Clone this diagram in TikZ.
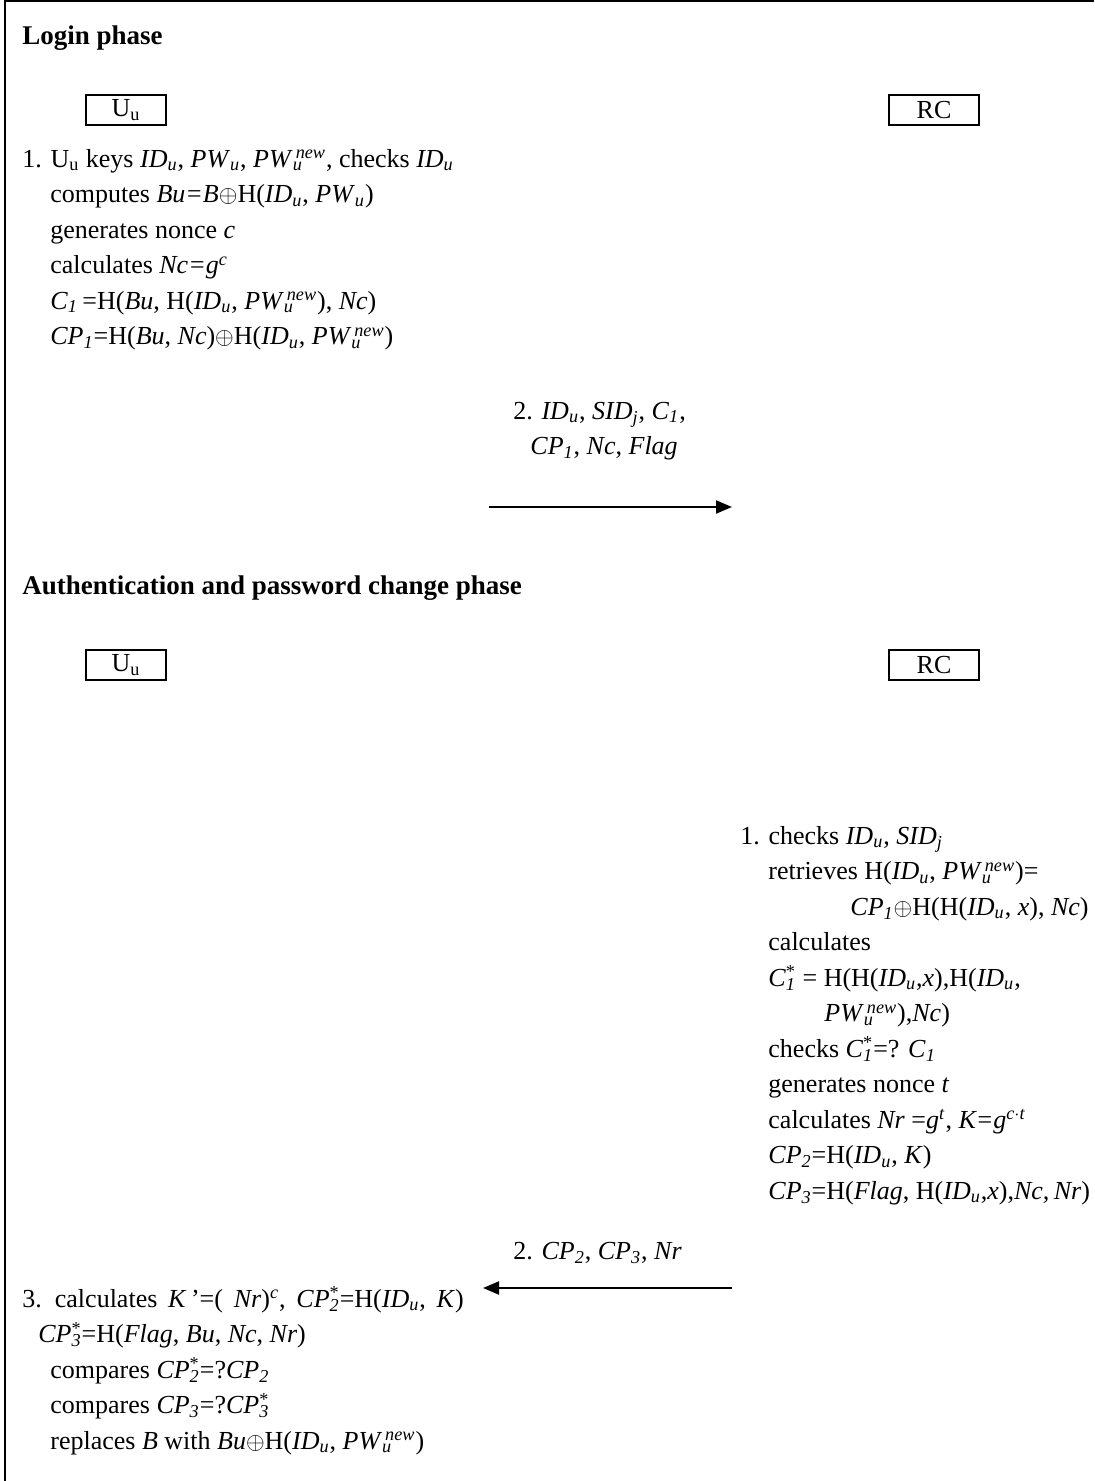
\documentclass[tikz,border=0pt]{standalone}
\usepackage{fontspec}
\setmainfont{Liberation Serif}
\usetikzlibrary{arrows.meta}

\newcommand{\sbi}[1]{\textsubscript{\textit{#1}}}
\newcommand{\PWnew}{\textit{PW}\rlap{\textsubscript{\textit{u}}}\kern1.5pt\textsuperscript{\textit{new}}}
\newcommand{\stsub}[1]{\rlap{\textsuperscript{*}}\textsubscript{\textit{#1}}}
\newcommand{\xo}{$\oplus$}
\newcommand{\ind}{\hspace*{14pt}}

\begin{document}
\begin{tikzpicture}[x=0.5pt, y=-0.5pt,
  every node/.style={font=\fontsize{13pt}{17.75pt}\selectfont, inner sep=0pt},
  heading/.style={anchor=base west, font=\fontsize{13.5pt}{17.75pt}\selectfont\bfseries},
  party/.style={draw, line width=1.3pt, minimum width=40pt, minimum height=15pt},
  block/.style={anchor=north west, align=left},
  msg/.style={-{Triangle[length=8pt,width=6.5pt]}, line width=1pt}]
  \useasboundingbox (0,0) rectangle (1094,1481);
  % frame
  \draw[line width=1.3pt] (5,1481) -- (5,1) -- (1094,1);

  % login phase
  \node[heading] (login) at (22,45) {Login phase};
  \node[party] (user1) at (126,110) {U\textsubscript{u}};
  \node[party, minimum width=45pt] (rc1) at (934,110) {RC};
  \node[block] (ustep1) at (22,142) {\strut 1. U\textsubscript{u} keys \textit{ID}\sbi{u}, \textit{PW}\sbi{u}, \PWnew, checks \textit{ID}\sbi{u}\\
    \ind computes \textit{Bu=B}\xo H(\textit{ID}\sbi{u}, \textit{PW}\sbi{u})\\
    \ind generates nonce \textit{c}\\
    \ind calculates \textit{Nc=g}\textsuperscript{\textit{c}}\\
    \ind \textit{C}\sbi{1}\,=H(\textit{Bu}, H(\textit{ID}\sbi{u}, \PWnew), \textit{Nc})\\
    \ind \textit{CP}\sbi{1}=H(\textit{Bu}, \textit{Nc})\xo H(\textit{ID}\sbi{u}, \PWnew)};
  \node[block] (msg1) at (513,394) {\strut 2. \textit{ID}\sbi{u}, \textit{SID}\sbi{j}, \textit{C}\sbi{1},\\
    \hspace*{8.5pt}\textit{CP}\sbi{1}, \textit{Nc}, \textit{Flag}};
  \coordinate (m1a) at (489,507);
  \coordinate (m1b) at (732,507);
  \draw[msg] (m1a) -- (m1b);

  % authentication phase
  \node[heading] (auth) at (22,594) {Authentication and password change phase};
  \node[party] (user2) at (126,665) {U\textsubscript{u}};
  \node[party, minimum width=45pt] (rc2) at (934,665) {RC};
  \node[block] (rstep1) at (740,819) {\strut 1. checks \textit{ID}\sbi{u}, \textit{SID}\sbi{j}\\
    \ind retrieves H(\textit{ID}\sbi{u}, \PWnew)=\\
    \hspace*{55pt}\textit{CP}\sbi{1}\xo H(H(\textit{ID}\sbi{u}, \textit{x}), \textit{Nc})\\
    \ind calculates\\
    \ind \textit{C}\stsub{1} = H(H(\textit{ID}\sbi{u},\textit{x}),H(\textit{ID}\sbi{u},\\
    \hspace*{42pt}\PWnew),\textit{Nc})\\
    \ind checks \textit{C}\stsub{1}=? \textit{C}\sbi{1}\\
    \ind generates nonce \textit{t}\\
    \ind calculates \textit{Nr} =\textit{g}\textsuperscript{\textit{t}}, \textit{K=g}\textsuperscript{\textit{c$\cdot$t}}\\
    \ind \textit{CP}\sbi{2}=H(\textit{ID}\sbi{u}, \textit{K})\\
    \ind \textit{CP}\sbi{3}=H(\textit{Flag}, H(\textit{ID}\sbi{u},\textit{x}),\textit{Nc,\,Nr})};
  \node[block] (msg2) at (513,1234) {\strut 2. \textit{CP}\sbi{2}, \textit{CP}\sbi{3}, \textit{Nr}};
  \coordinate (m2a) at (732,1288);
  \coordinate (m2b) at (483,1288);
  \draw[msg] (m2a) -- (m2b);
  \node[block] (ustep3) at (22,1282) {\strut 3.\, calculates\, \textit{K}\,'=(\, \textit{Nr})\textsuperscript{\textit{c}},\, \textit{CP}\stsub{2}=H(\textit{ID}\sbi{u},\, \textit{K})\\
    \hspace*{8pt}\textit{CP}\stsub{3}=H(\textit{Flag}, \textit{Bu}, \textit{Nc}, \textit{Nr})\\
    \ind compares \textit{CP}\stsub{2}=?\textit{CP}\sbi{2}\\
    \ind compares \textit{CP}\sbi{3}=?\textit{CP}\stsub{3}\\
    \ind replaces \textit{B} with \textit{Bu}\xo H(\textit{ID}\sbi{u}, \PWnew)};
\end{tikzpicture}
\end{document}
